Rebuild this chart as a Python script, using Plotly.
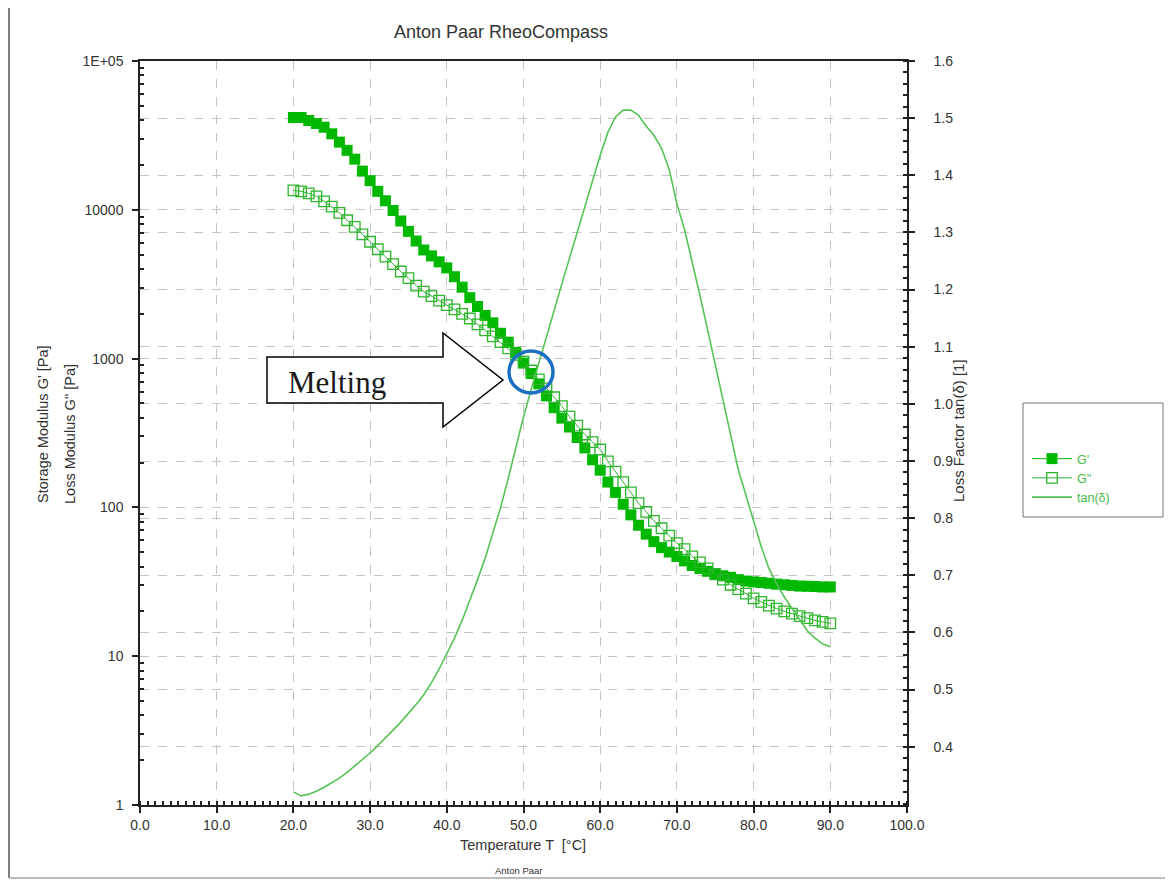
import plotly.graph_objects as go

# ---------------- data ----------------
temperature = list(range(20, 91))

g_storage = [41700, 41700, 39800, 38000, 35900, 32400, 28500, 25100, 21900, 18200,
             15700, 13300, 11500, 9890, 8410, 7160, 6170, 5370, 4900, 4470,
             4070, 3550, 3020, 2570, 2240, 1950, 1740, 1480, 1290, 1100,
             933, 794, 676, 562, 468, 398, 347, 295, 251, 209,
             178, 148, 126, 105, 89.1, 75.9, 66.1, 58.9, 53.7, 50.1,
             46.8, 43.7, 40.7, 38.9, 37.2, 35.9, 34.7, 33.9, 32.7, 32.0,
             31.6, 31.3, 30.9, 30.5, 30.2, 29.9, 29.6, 29.5, 29.4, 29.2, 29.2]

g_loss = [13500, 13300, 12900, 12300, 11400, 10500, 9550, 8510, 7670, 6840,
          6100, 5430, 4840, 4320, 3850, 3470, 3090, 2820, 2630, 2450,
          2290, 2140, 2000, 1860, 1700, 1550, 1410, 1290, 1170, 1060,
          955, 832, 724, 631, 550, 479, 407, 355, 309, 275,
          245, 204, 174, 148, 126, 107, 93.3, 81.3, 72.4, 64.6,
          57.5, 52.5, 46.8, 42.7, 38.9, 35.5, 32.7, 30.2, 28.2, 26.3,
          24.5, 23.2, 21.9, 20.9, 20.0, 19.3, 18.6, 18.0, 17.4, 17.0, 16.6]

tan_delta = [0.321, 0.314, 0.317, 0.322, 0.329, 0.337, 0.345, 0.355, 0.366, 0.377,
             0.389, 0.402, 0.415, 0.429, 0.443, 0.458, 0.474, 0.491, 0.512, 0.536,
             0.562, 0.590, 0.621, 0.655, 0.692, 0.730, 0.772, 0.818, 0.869, 0.923,
             0.977, 1.025, 1.072, 1.120, 1.165, 1.210, 1.255, 1.300, 1.348, 1.393,
             1.435, 1.475, 1.502, 1.514, 1.514, 1.505, 1.486, 1.470, 1.447, 1.410,
             1.350, 1.305, 1.250, 1.190, 1.130, 1.070, 1.005, 0.945, 0.885, 0.840,
             0.795, 0.750, 0.712, 0.685, 0.662, 0.642, 0.622, 0.603, 0.590, 0.580, 0.575]

series_names = ["G'", "G''", "tan(δ)"]

x_ticks = [0, 10, 20, 30, 40, 50, 60, 70, 80, 90, 100]
x_ticktext = ["0.0", "10.0", "20.0", "30.0", "40.0", "50.0", "60.0", "70.0", "80.0", "90.0", "100.0"]
y_ticks = [1, 10, 100, 1000, 10000, 100000]
y_ticktext = ["1", "10", "100", "1000", "10000", "1E+05"]
y2_ticks = [0.4, 0.5, 0.6, 0.7, 0.8, 0.9, 1.0, 1.1, 1.2, 1.3, 1.4, 1.5, 1.6]
y2_ticktext = ["0.4", "0.5", "0.6", "0.7", "0.8", "0.9", "1.0", "1.1", "1.2", "1.3", "1.4", "1.5", "1.6"]

# ---------------- layout geometry (page pixels; the page body has an 8px margin) ----------------
OFF = 8
W, H = 1173 - OFF, 881 - OFF
L, R, T, B = 140, 907, 61, 805  # plot area in page pixels


def px(xp):
    return (xp - L) / (R - L)


def py(yp):
    return (B - yp) / (B - T)


FONT = "Liberation Sans, Arial, sans-serif"
TXT = "#333333"
GREEN_FILL = "#00b800"
GREEN_OPEN = "#2db52d"
GREEN_LINE = "#55c455"
GRID = "#c4c4c4"
AX = "#222222"

fig = go.Figure()

fig.add_trace(go.Scatter(
    x=temperature, y=g_storage, name=series_names[0], mode="lines+markers",
    line=dict(color=GREEN_FILL, width=1),
    marker=dict(symbol="square", size=11, color=GREEN_FILL, line=dict(width=0)),
    yaxis="y"))

fig.add_trace(go.Scatter(
    x=temperature, y=g_loss, name=series_names[1], mode="lines+markers",
    line=dict(color=GREEN_OPEN, width=1),
    marker=dict(symbol="square-open", size=10.5, color=GREEN_OPEN, line=dict(width=1.3)),
    yaxis="y"))

fig.add_trace(go.Scatter(
    x=temperature, y=tan_delta, name=series_names[2], mode="lines",
    line=dict(color=GREEN_LINE, width=1.6),
    yaxis="y2"))

y_minor = [m * 10 ** d for d in range(0, 5) for m in range(2, 10)]
tickfont = dict(family=FONT, size=14, color=TXT)

fig.update_layout(
    width=W, height=H,
    margin=dict(l=L - OFF, r=W - (R - OFF), t=T - OFF, b=H - (B - OFF), pad=0),
    paper_bgcolor="white", plot_bgcolor="white",
    font=dict(family=FONT, size=14, color=TXT),
    title=dict(text="Anton Paar RheoCompass", x=(501 - OFF) / W, xref="container", xanchor="center",
               y=1 - (32 - OFF) / H, yref="container", yanchor="middle",
               font=dict(family=FONT, size=18, color=TXT)),
    showlegend=True,
    legend=dict(x=px(1027), y=py(444), xanchor="left", yanchor="top",
                bgcolor="rgba(0,0,0,0)", borderwidth=0,
                font=dict(family=FONT, size=12.5, color="#44bb44"),
                itemwidth=40, tracegroupgap=0),
    xaxis=dict(range=[0, 100], tickmode="array", tickvals=x_ticks, ticktext=x_ticktext,
               showline=True, linecolor=AX, linewidth=1.5, mirror=True,
               ticks="outside", ticklen=6, tickwidth=1.5, tickcolor=AX,
               showgrid=True, gridcolor=GRID, griddash="dash", gridwidth=1,
               zeroline=False,
               minor=dict(tickmode="linear", tick0=0, dtick=1, ticks="inside", ticklen=4,
                          tickwidth=1.5, tickcolor=AX, showgrid=False),
               tickfont=tickfont),
    yaxis=dict(type="log", range=[0, 5], tickmode="array", tickvals=y_ticks, ticktext=y_ticktext,
               showline=True, linecolor=AX, linewidth=1.5,
               ticks="outside", ticklen=6, tickwidth=1.5, tickcolor=AX,
               showgrid=True, gridcolor=GRID, griddash="dash", gridwidth=1,
               zeroline=False, ticklabelstandoff=6,
               minor=dict(tickmode="array", tickvals=y_minor, ticks="inside", ticklen=4,
                          tickwidth=1.5, tickcolor=AX, showgrid=False),
               tickfont=tickfont),
    yaxis2=dict(range=[0.298, 1.6], overlaying="y", side="right", anchor="x",
                tickmode="array", tickvals=y2_ticks, ticktext=y2_ticktext,
                showline=True, linecolor=AX, linewidth=1.5,
                ticks="outside", ticklen=6, tickwidth=1.5, tickcolor=AX,
                showgrid=True, gridcolor=GRID, griddash="dash", gridwidth=1,
                zeroline=False, ticklabelstandoff=16,
                minor=dict(tickmode="linear", tick0=0, dtick=0.02, ticks="inside", ticklen=4,
                           tickwidth=1.5, tickcolor=AX, showgrid=False),
                tickfont=tickfont),
)

annotations = [
    dict(text="Storage Modulus G' [Pa]", x=px(43), y=py(424), textangle=-90, size=14.5),
    dict(text="Loss Modulus G'' [Pa]", x=px(70), y=py(434), textangle=-90, size=14.5),
    dict(text="Loss Factor tan(δ) [1]", x=px(958), y=py(431), textangle=-90, size=15),
    dict(text="Temperature T  [°C]", x=px(523), y=py(845), textangle=0, size=14.5),
]
for a in annotations:
    size = a.pop("size")
    fig.add_annotation(xref="paper", yref="paper", xanchor="center", yanchor="middle",
                       showarrow=False, font=dict(family=FONT, size=size, color=TXT), **a)

fig.add_annotation(xref="paper", yref="paper", x=px(519), y=py(870), text="Anton Paar",
                   showarrow=False, xanchor="center", yanchor="middle",
                   font=dict(family=FONT, size=9.5, color=TXT))

# legend frame
fig.add_shape(type="rect", xref="paper", yref="paper",
              x0=px(1023), x1=px(1163), y0=py(517), y1=py(403),
              line=dict(color="#777777", width=1), fillcolor="rgba(0,0,0,0)")

# page frame (left and bottom edges)
fig.add_shape(type="line", xref="paper", yref="paper", x0=px(9), x1=px(9), y0=py(878), y1=py(8),
              line=dict(color="#555555", width=1.5))
fig.add_shape(type="line", xref="paper", yref="paper", x0=px(9), x1=px(1173), y0=py(878), y1=py(878),
              line=dict(color="#bbbbbb", width=2))

# "Melting" block arrow
pts = [(267, 357), (443, 357), (443, 333), (503, 380), (443, 427), (443, 403), (267, 403)]
path = "M " + " L ".join(f"{px(a):.5f},{py(b):.5f}" for a, b in pts) + " Z"
fig.add_shape(type="path", xref="paper", yref="paper", path=path,
              line=dict(color="black", width=1.5), fillcolor="white")
fig.add_annotation(xref="paper", yref="paper", x=px(286), y=py(383), text="Melting",
                   showarrow=False, xanchor="left", yanchor="middle",
                   font=dict(family="Liberation Serif, Times New Roman, serif", size=31, color="#1a1a1a"))

# blue circle marking the crossover
fig.add_shape(type="circle", xref="paper", yref="paper",
              x0=px(509), x1=px(553), y0=py(393), y1=py(351),
              line=dict(color="#1c6fc1", width=3.5), fillcolor="rgba(0,0,0,0)")

fig.write_html("out.html")
